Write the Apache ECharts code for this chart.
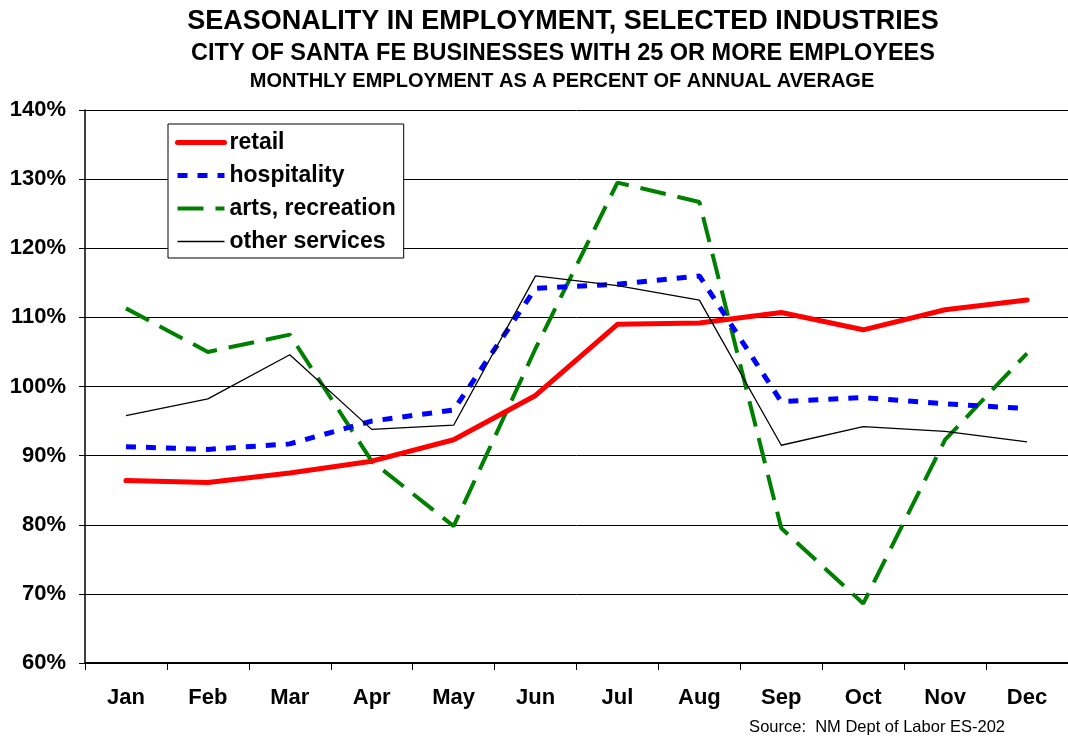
<!DOCTYPE html>
<html>
<head>
<meta charset="utf-8">
<script src="https://cdn.jsdelivr.net/npm/echarts@6/dist/echarts.min.js"></script>
<style>
html,body{margin:0;padding:0;background:#fff;}
#chart{width:1068px;height:736px;}
</style>
</head>
<body>
<div id="chart"></div>
<script>
const months = ['Jan','Feb','Mar','Apr','May','Jun','Jul','Aug','Sep','Oct','Nov','Dec'];
const retail = [86.4, 86.1, 87.5, 89.2, 92.3, 98.7, 109.0, 109.2, 110.7, 108.2, 111.1, 112.5];
const hospitality = [91.3, 90.9, 91.7, 95.0, 96.6, 114.2, 114.8, 116.0, 97.8, 98.4, 97.5, 96.8];
const arts = [111.3, 105.0, 107.5, 89.2, 79.8, 105.5, 129.5, 126.7, 79.5, 68.6, 92.3, 104.8];
const other = [95.8, 98.2, 104.6, 93.8, 94.4, 116.0, 114.6, 112.5, 91.5, 94.2, 93.5, 92.0];
const titleLines = [
  'SEASONALITY IN EMPLOYMENT, SELECTED INDUSTRIES',
  'CITY OF SANTA FE BUSINESSES WITH 25 OR MORE EMPLOYEES',
  'MONTHLY EMPLOYMENT AS A PERCENT OF ANNUAL AVERAGE'
];
const sourceText = 'Source:  NM Dept of Labor ES-202';

const FONT = '"Liberation Sans", Arial, sans-serif';
const chart = echarts.init(document.getElementById('chart'), null, {renderer: 'canvas'});
chart.setOption({
  animation: false,
  backgroundColor: '#fff',
  graphic: [
    {type: 'text', x: 563, y: 8, style: {text: titleLines[0], textAlign: 'center', font: 'bold 27px ' + FONT, fill: '#000'}},
    {type: 'text', x: 563, y: 42, style: {text: titleLines[1], textAlign: 'center', font: 'bold 23.5px ' + FONT, fill: '#000'}},
    {type: 'text', x: 562, y: 71, style: {text: titleLines[2], textAlign: 'center', font: 'bold 20px ' + FONT, fill: '#000'}},
    {type: 'text', x: 1005, y: 719, style: {text: sourceText, textAlign: 'right', font: '16.5px ' + FONT, fill: '#000'}}
  ],
  legend: {
    orient: 'vertical',
    left: 168, top: 124,
    padding: [7, 8, 5, 7],
    itemGap: 10,
    itemWidth: 47, itemHeight: 14,
    backgroundColor: '#fff',
    borderColor: '#000', borderWidth: 1,
    itemStyle: {opacity: 0},
    textStyle: {fontFamily: FONT, fontWeight: 'bold', fontSize: 23, color: '#000', lineHeight: 23, padding: [0,0,0,0]},
    data: [
      {name: 'retail', lineStyle: {width: 5}},
      {name: 'hospitality', lineStyle: {width: 5}},
      {name: 'arts, recreation', lineStyle: {width: 4}},
      {name: 'other services', lineStyle: {width: 1.3}}
    ]
  },
  grid: {left: 85, top: 110, width: 992, height: 553},
  xAxis: {
    type: 'category',
    data: months,
    boundaryGap: true,
    axisLine: {lineStyle: {color: '#000', width: 2}},
    axisTick: {show: true, length: 7, lineStyle: {color: '#000', width: 1}},
    axisLabel: {margin: 24, fontFamily: FONT, fontWeight: 'bold', fontSize: 22, color: '#000'}
  },
  yAxis: {
    type: 'value',
    min: 60, max: 140, interval: 10,
    axisLine: {show: true, lineStyle: {color: '#000', width: 1.5}},
    axisTick: {show: true, length: 6, lineStyle: {color: '#000'}},
    axisLabel: {margin: 19, formatter: '{value}%', fontFamily: FONT, fontWeight: 'bold', fontSize: 22, color: '#000'},
    splitLine: {show: true, lineStyle: {color: '#000', width: 1}}
  },
  series: [
    {name: 'retail', type: 'line', data: retail, symbol: 'none', z: 4,
     lineStyle: {color: '#ff0000', width: 5, cap: 'round', join: 'round'}, itemStyle: {color: '#ff0000'}},
    {name: 'hospitality', type: 'line', data: hospitality, symbol: 'none', z: 3,
     lineStyle: {color: '#0000ff', width: 5, type: [10, 10]}, itemStyle: {color: '#0000ff'}},
    {name: 'arts, recreation', type: 'line', data: arts, symbol: 'none', z: 2,
     lineStyle: {color: '#008000', width: 4, type: [26, 12]}, itemStyle: {color: '#008000'}},
    {name: 'other services', type: 'line', data: other, symbol: 'none', z: 5,
     lineStyle: {color: '#000', width: 1.3}, itemStyle: {color: '#000'}}
  ]
});
</script>
</body>
</html>
